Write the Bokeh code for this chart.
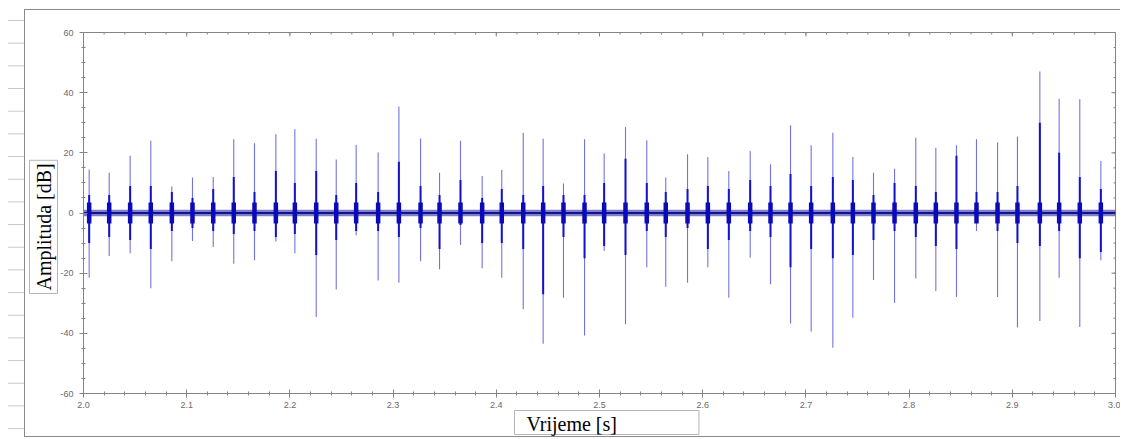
from bokeh.plotting import figure
from bokeh.models import Range1d, FixedTicker, Title, Div, ColumnDataSource
from bokeh.layouts import row
from bokeh.embed import file_html
from bokeh.resources import INLINE

# ---- data ----
click_t = [2.0055, 2.0249, 2.0452, 2.0652, 2.0856, 2.1056, 2.1257, 2.1456, 2.1657, 2.1864,
           2.2048, 2.2255, 2.2449, 2.2642, 2.2855, 2.3056, 2.3266, 2.3450, 2.3653, 2.3863,
           2.4053, 2.4261, 2.4454, 2.4651, 2.4855, 2.5045, 2.5252, 2.5458, 2.5642, 2.5853,
           2.6050, 2.6253, 2.6460, 2.6657, 2.6851, 2.7051, 2.7261, 2.7455, 2.7655, 2.7859,
           2.8065, 2.8259, 2.8459, 2.8653, 2.8857, 2.9050, 2.9267, 2.9454, 2.9654, 2.9858]
peak_pos = [14.5, 13.4, 19.0, 24.0, 8.8, 11.8, 12.0, 24.5, 23.2, 26.2,
            27.8, 24.7, 17.8, 22.6, 20.1, 35.4, 24.8, 13.4, 24.0, 12.3,
            14.3, 26.7, 24.7, 9.8, 24.5, 19.8, 28.6, 24.2, 11.8, 19.5,
            18.6, 14.0, 20.6, 16.2, 29.2, 22.5, 26.7, 18.6, 13.4, 14.7,
            25.0, 21.7, 22.5, 24.5, 23.4, 25.4, 47.0, 38.0, 37.8, 17.3]
peak_neg = [-21.5, -14.3, -13.4, -25.0, -16.0, -9.3, -11.3, -16.9, -15.7, -9.5,
            -13.4, -34.6, -25.4, -7.4, -22.4, -23.2, -16.0, -18.7, -10.6, -18.4,
            -21.5, -32.0, -43.5, -28.2, -40.7, -12.6, -37.0, -18.0, -24.5, -23.2,
            -18.0, -28.2, -14.9, -23.7, -36.7, -39.5, -44.8, -34.8, -22.3, -29.8,
            -21.8, -25.9, -27.9, -6.0, -27.9, -38.1, -35.9, -21.5, -37.9, -15.7]
core_pos = [6, 6, 9, 9, 7, 5, 8, 12, 7, 14,
            10, 14, 6, 10, 7, 17, 9, 6, 11, 5,
            8, 6, 9, 6, 6, 10, 18, 10, 7, 8,
            9, 8, 11, 9, 13, 9, 12, 11, 6, 10,
            9, 7, 19, 7, 7, 9, 30, 20, 12, 8]
core_neg = [-10, -8, -9, -12, -6, -5, -6, -7, -6, -8,
            -7, -14, -9, -6, -6, -8, -5, -12, -4, -10,
            -10, -12, -27, -8, -15, -11, -14, -6, -8, -5,
            -12, -9, -6, -8, -18, -12, -15, -14, -9, -6,
            -8, -11, -12, -3, -6, -10, -11, -6, -15, -13]
burst_hi = [3.5] * len(click_t)
burst_lo = [-3.5] * len(click_t)
noise_t = [2.0, 3.0]
noise_lo = [-1.1, -1.1]
noise_hi = [1.1, 1.1]
baseline = [0.0, 0.0]

X_MIN, X_MAX = 2.0, 3.0
Y_MIN, Y_MAX = -60, 60
x_ticks = [2.0, 2.1, 2.2, 2.3, 2.4, 2.5, 2.6, 2.7, 2.8, 2.9, 3.0]
x_tick_labels = ["2.0", "2.1", "2.2", "2.3", "2.4", "2.5", "2.6", "2.7", "2.8", "2.9", "3.0"]
y_ticks = [-60, -40, -20, 0, 20, 40, 60]
y_tick_labels = ["-60", "-40", "-20", "0", "20", "40", "60"]
x_minor = [round(2.0 + 0.02 * i, 2) for i in range(51)]
y_minor = [-60 + 5 * i for i in range(25)]

src = ColumnDataSource(dict(t=click_t, pp=peak_pos, pn=peak_neg, cp=core_pos, cn=core_neg,
                            bh=burst_hi, bl=burst_lo))

AX = "#858585"
LBL = "#6a6a6a"

p = figure(width=1096, height=428, x_range=Range1d(X_MIN, X_MAX), y_range=Range1d(Y_MIN, Y_MAX),
           output_backend="svg", toolbar_location=None,
           min_border_left=58, min_border_right=6, min_border_top=22, min_border_bottom=45,
           background_fill_color="white", border_fill_color="white",
           margin=(9, 0, 0, 0),
           styles={"border-top": "1px solid #8a8a8a", "border-left": "1px solid #8a8a8a",
                   "border-bottom": "1px solid #8a8a8a"})
p.outline_line_color = AX
p.grid.visible = False

def style_axis(ax):
    ax.axis_line_color = AX
    ax.major_tick_line_color = AX
    ax.minor_tick_line_color = AX
    ax.major_tick_in = 4
    ax.major_tick_out = 4
    ax.minor_tick_in = 2
    ax.minor_tick_out = 2
    ax.major_label_text_font = "Liberation Sans"
    ax.major_label_text_font_size = "9px"
    ax.major_label_text_color = LBL

bx = p.xaxis[0]
bx.ticker = FixedTicker(ticks=x_ticks, minor_ticks=x_minor)
bx.major_label_overrides = dict(zip(x_ticks, x_tick_labels))
style_axis(bx)
bx.major_label_standoff = 4

ly = p.yaxis[0]
ly.ticker = FixedTicker(ticks=y_ticks, minor_ticks=y_minor)
ly.major_label_overrides = dict(zip(y_ticks, y_tick_labels))
style_axis(ly)
ly.major_label_standoff = 6

# inward ticks on the top and right edges of the frame
dy_major, dy_minor = 1.33, 0.66
dx_major, dx_minor = 0.0039, 0.0019
p.segment(x0=x_ticks, y0=[Y_MAX] * len(x_ticks), x1=x_ticks, y1=[Y_MAX - dy_major] * len(x_ticks),
          line_color=AX, line_width=1)
p.segment(x0=x_minor, y0=[Y_MAX] * len(x_minor), x1=x_minor, y1=[Y_MAX - dy_minor] * len(x_minor),
          line_color=AX, line_width=1)
p.segment(x0=[X_MAX] * len(y_ticks), y0=y_ticks, x1=[X_MAX - dx_major] * len(y_ticks), y1=y_ticks,
          line_color=AX, line_width=1)
p.segment(x0=[X_MAX] * len(y_minor), y0=y_minor, x1=[X_MAX - dx_minor] * len(y_minor), y1=y_minor,
          line_color=AX, line_width=1)

# signal
p.varea(x=noise_t, y1=noise_lo, y2=noise_hi, fill_color="#2828a8", fill_alpha=0.6)
p.line(x=noise_t, y=baseline, line_color="#14148a", line_width=2)
p.segment(x0="t", y0="pn", x1="t", y1="pp", source=src, line_color="#5050d4",
          line_alpha=0.8, line_width=1.1)
p.segment(x0="t", y0="cn", x1="t", y1="cp", source=src, line_color="#1212cc",
          line_width=2)
p.segment(x0="t", y0="bl", x1="t", y1="bh", source=src, line_color="#0a0ab8",
          line_width=4.5)

# axis titles in boxes
ylab = Title(text="Amplituda [dB]", align="left", offset=100, text_font="Liberation Serif",
             text_font_size="20px", text_font_style="normal", text_color="black",
             background_fill_color="white", border_line_color="#b4b4b4",
             padding=3, standoff=0)
p.add_layout(ylab, "left")
xlab = Title(text="Vrijeme [s]", align="left", offset=431, vertical_align="top",
             text_font="Liberation Serif",
             text_font_size="20px", text_font_style="normal", text_color="black",
             background_fill_color="white", border_line_color="#b4b4b4",
             padding=dict(left=12, right=82, top=2, bottom=0), standoff=0)
p.add_layout(xlab, "below")

ruler = Div(width=24, height=439, margin=0, styles={
    "background-image": "linear-gradient(to bottom, #c8c8c8 0px, #c8c8c8 1px, transparent 1px)",
    "background-size": "16px 22.68px",
    "background-position": "8px 20px",
    "background-repeat": "repeat-y",
})

layout = row(ruler, p, spacing=0)
open("out.html", "w").write(file_html(layout, INLINE))
